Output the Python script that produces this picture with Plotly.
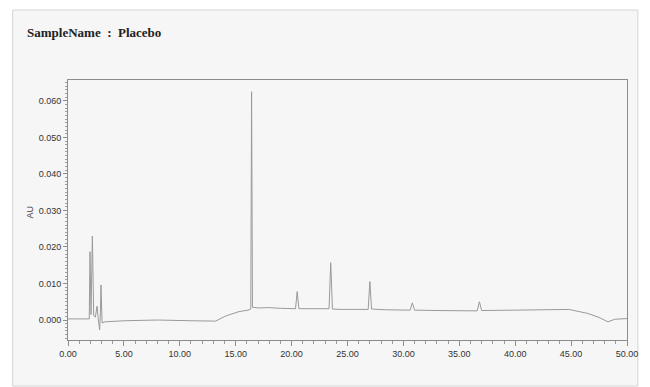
import plotly.graph_objects as go

# Chromatogram (minutes, AU)
time_min = [0.0, 1.9, 1.97, 2.06, 2.18, 2.3, 2.45, 2.6, 2.7, 2.83, 2.9, 2.95, 3.05, 3.3,
            5.0, 8.0, 11.0, 13.2, 14.1, 15.3, 16.1, 16.35, 16.42, 16.5, 17.0, 18.0, 19.0,
            20.35, 20.5, 20.65, 22.0, 23.35, 23.5, 23.65, 24.5, 26.0, 26.85, 27.0, 27.15,
            28.5, 30.6, 30.8, 31.0, 33.0, 34.8, 36.6, 36.8, 37.0, 40.0, 43.0, 44.8, 46.5,
            47.5, 48.3, 48.9, 50.0]
absorbance = [0.0003, 0.0003, 0.0187, 0.0015, 0.0230, 0.0012, 0.0008, 0.0038, 0.0005, -0.0027,
              0.0020, 0.0096, -0.0008, -0.0005, -0.0002, 0.0000, -0.0002, -0.0003, 0.0011,
              0.0023, 0.0027, 0.0030, 0.0625, 0.0035, 0.0033, 0.0034, 0.0032, 0.0031, 0.0078,
              0.0031, 0.0031, 0.0031, 0.0157, 0.0030, 0.0029, 0.0028, 0.0029, 0.0105, 0.0030,
              0.0028, 0.0027, 0.0047, 0.0027, 0.0026, 0.0025, 0.0025, 0.0050, 0.0026, 0.0027,
              0.0028, 0.0029, 0.0018, 0.0007, -0.0005, 0.0002, 0.0004]

x_ticks = [0, 5, 10, 15, 20, 25, 30, 35, 40, 45, 50]
y_ticks = [0.0, 0.01, 0.02, 0.03, 0.04, 0.05, 0.06]

title_text = "SampleName  :  Placebo"
y_title = "AU"

fig = go.Figure()
fig.add_trace(go.Scatter(x=time_min, y=absorbance, mode="lines",
                         line=dict(color="#9a9a9a", width=1), showlegend=False))

tick_font = dict(family="Liberation Sans, Arial, sans-serif", size=9, color="#333333")

fig.update_layout(
    width=650, height=387,
    margin=dict(l=68, r=17, t=80, b=47),
    paper_bgcolor="white",
    plot_bgcolor="#fbfbfb",
    xaxis=dict(range=[0, 50], tickvals=x_ticks, tickformat=".2f",
               showgrid=False, zeroline=False, showline=True, mirror=True,
               linecolor="#8c8c8c", linewidth=1, ticks="outside", ticklen=5,
               tickcolor="#8c8c8c", tickfont=tick_font,
               minor=dict(dtick=1, ticks="outside", ticklen=3, tickcolor="#9a9a9a")),
    yaxis=dict(range=[-0.00547, 0.0657], tickvals=y_ticks, tickformat=".3f",
               showgrid=False, zeroline=False, showline=True, mirror=True,
               linecolor="#8c8c8c", linewidth=1, ticks="outside", ticklen=4,
               tickcolor="#8c8c8c", tickfont=tick_font,
               minor=dict(dtick=0.001, ticks="outside", ticklen=2, tickcolor="#a0a0a0")),
    shapes=[dict(type="rect", xref="paper", yref="paper",
                 x0=-56/565, x1=(644-68)/565, y0=(387-386)/260 - 47/260, y1=(387-47-10)/260,
                 fillcolor="#f6f6f6", line=dict(color="#d4d4d4", width=1), layer="below")],
    annotations=[
        dict(text="<b>" + title_text + "</b>", xref="paper", yref="paper",
             x=-43/565, y=(340-33)/260, xanchor="left", yanchor="middle", showarrow=False,
             font=dict(family="Liberation Serif, Times New Roman, serif", size=13, color="#222222")),
        dict(text=y_title, xref="paper", yref="paper", x=-38/565, y=(340-212)/260,
             xanchor="center", yanchor="middle", showarrow=False, textangle=-90,
             font=dict(family="Liberation Sans, Arial, sans-serif", size=9, color="#444444")),
    ],
)

fig.write_html("out.html")
